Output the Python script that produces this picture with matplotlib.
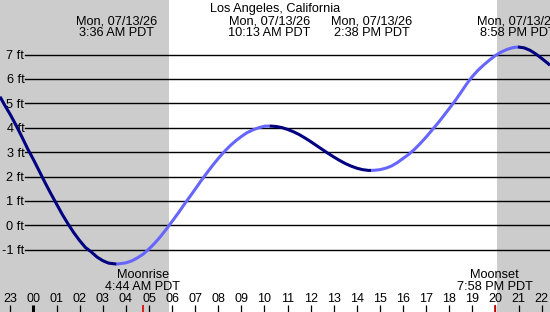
import matplotlib.pyplot as plt
import numpy as np

plt.rcParams['font.family'] = ['Liberation Sans', 'DejaVu Sans']

# tide heights (ft) every quarter hour, hours from midnight 07/13/26
tide_hours = [-1.45, -1.25, -1.0, -0.75, -0.5, -0.25, 0.0, 0.25, 0.5, 0.75, 1.0, 1.25, 1.5,
              1.75, 2.0, 2.25, 2.5, 2.75, 3.0, 3.25, 3.6,
              4.0, 4.25, 4.5, 4.75, 5.0, 5.25, 5.5, 5.75, 6.0, 6.25, 6.5, 6.75, 7.0, 7.25,
              7.5, 7.75, 8.0, 8.25, 8.5, 8.75, 9.0, 9.25, 9.5, 9.75, 10.0, 10.217,
              10.5, 10.75, 11.0, 11.25, 11.5, 11.75, 12.0, 12.25, 12.5, 12.75, 13.0, 13.25,
              13.5, 13.75, 14.0, 14.25, 14.5, 14.633,
              14.75, 15.0, 15.25, 15.5, 15.75, 16.0, 16.25, 16.5, 16.75, 17.0, 17.25, 17.5,
              17.75, 18.0, 18.25, 18.5, 18.75, 19.0, 19.25, 19.5, 19.75, 20.0, 20.25, 20.5,
              20.75, 20.967,
              21.25, 21.5, 21.75, 22.0, 22.25, 22.36]
tide_ft = [5.27, 4.93, 4.53, 4.09, 3.62, 3.13, 2.69, 2.22, 1.75, 1.30, 0.87, 0.44, 0.05,
           -0.31, -0.63, -0.91, -1.09, -1.30, -1.45, -1.55, -1.59,
           -1.54, -1.46, -1.335, -1.18, -0.97, -0.73, -0.46, -0.16, 0.16, 0.48, 0.82, 1.15,
           1.48, 1.82, 2.14, 2.45, 2.74, 3.01, 3.25, 3.46, 3.64, 3.80, 3.91, 4.00, 4.06, 4.07,
           4.05, 4.005, 3.93, 3.835, 3.72, 3.58, 3.43, 3.27, 3.11, 2.95, 2.80, 2.66,
           2.53, 2.425, 2.34, 2.28, 2.25, 2.25,
           2.255, 2.28, 2.34, 2.43, 2.57, 2.74, 2.91, 3.12, 3.36, 3.62, 3.90, 4.18,
           4.48, 4.79, 5.10, 5.44, 5.79, 6.10, 6.36, 6.58, 6.78, 6.96, 7.10, 7.21,
           7.28, 7.31,
           7.27, 7.17, 7.02, 6.84, 6.65, 6.56]

# high / low events
event_hours = [3.6, 10.217, 14.633, 20.967]
event_labels = ['3:36 AM PDT', '10:13 AM PDT', '2:38 PM PDT', '8:58 PM PDT']
event_date = 'Mon, 07/13/26'

# moon events
moon_hours = [4.733, 19.967]
moon_names = ['Moonrise', 'Moonset']
moon_labels = ['4:44 AM PDT', '7:58 PM PDT']

sunrise, sunset = 5.87, 20.06
hour_ticks = list(range(-1, 23))
hour_labels = ['%02d' % (h % 24) for h in hour_ticks]
ft_levels = list(range(-1, 8))

W, H = 550, 312
x0, x1 = -1.45, 22.36
px_ft, zero_px = 24.4, 225.3

fig = plt.figure(figsize=(W / 100, H / 100), dpi=100)
ax = fig.add_axes([0, 0, 1, 1])
ax.set_xlim(x0, x1)
ax.set_ylim((zero_px - H) / px_ft, zero_px / px_ft)
ax.axis('off')

def fy(py):
    # pixel row -> axes fraction
    return 1 - py / H

xt = ax.get_xaxis_transform()

# night shading
ax.axvspan(x0, sunrise, color='#cccccc', lw=0, zorder=0)
ax.axvspan(sunset, x1, color='#cccccc', lw=0, zorder=0)

# height grid
x_grid = x0 + 25 / 23.1
for f in ft_levels:
    ax.plot([x_grid, x1], [f, f], color='black', lw=1.0, zorder=1)
    ax.text(x_grid - 0.03, f, '%d ft' % f, ha='right', va='center_baseline', fontsize=9.2)

# tide curve, dark when falling, light when rising
t = np.array(tide_hours)
h = np.array(tide_ft)
bounds = [t[0]] + event_hours + [t[-1]]
for a, b in zip(bounds[:-1], bounds[1:]):
    m = (t >= a - 1e-6) & (t <= b + 1e-6)
    rising = h[m][-1] > h[m][0]
    ax.plot(t[m], h[m], color='#6666ff' if rising else '#000080', lw=2.2,
            solid_capstyle='butt', solid_joinstyle='round', zorder=3)

# title and event labels
ax.text((x0 + x1) / 2, fy(11.7), 'Los Angeles, California', ha='center', va='baseline',
        fontsize=9.2, transform=xt)
for eh, lab in zip(event_hours, event_labels):
    ax.text(eh, fy(24.2), event_date, ha='center', va='baseline', fontsize=9.2, transform=xt)
    ax.text(eh, fy(36.5), lab, ha='center', va='baseline', fontsize=9.2, transform=xt)

# moon labels
for mh, name, lab in zip(moon_hours, moon_names, moon_labels):
    ax.text(mh, fy(278.3), name, ha='center', va='baseline', fontsize=9.2, transform=xt)
    ax.text(mh, fy(289.5), lab, ha='center', va='baseline', fontsize=9.2, transform=xt)

# hour axis
for hr, lab in zip(hour_ticks, hour_labels):
    ax.text(hr, fy(301.7), lab, ha='center', va='baseline', fontsize=9.0, transform=xt)
    ax.plot([hr, hr], [0, fy(305)], color='black', lw=2.2 if hr == 0 else 0.9,
            transform=xt, solid_capstyle='butt')
for mh in moon_hours:
    ax.plot([mh, mh], [0, fy(305)], color='#dd0000', lw=1.2, transform=xt,
            solid_capstyle='butt')

fig.savefig('out.png', dpi=100)
